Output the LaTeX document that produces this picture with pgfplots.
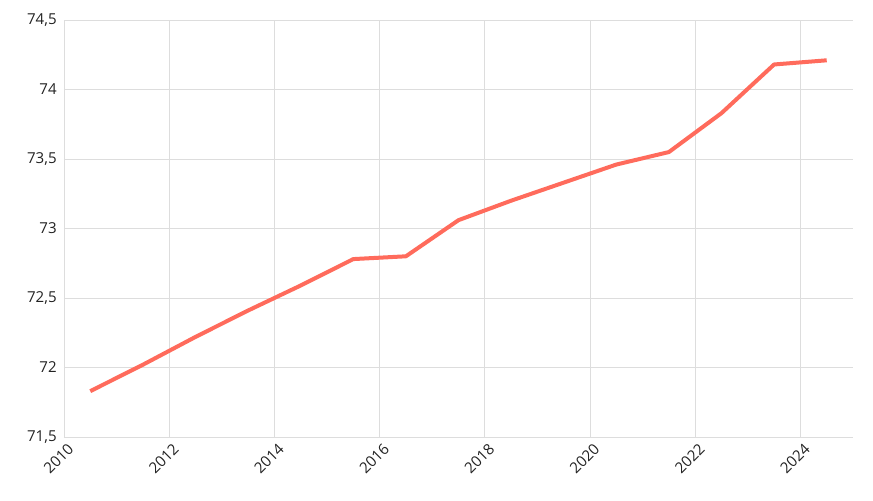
\documentclass[border=0pt]{standalone}
\usepackage{fontspec}
\setmainfont{Open Sans}
\usepackage{pgfplots}
\pgfplotsset{compat=1.18}
\definecolor{linec}{HTML}{FF6B5C}
\definecolor{gridc}{HTML}{DDDDDD}
\definecolor{textc}{HTML}{222222}
\begin{document}
\begin{tikzpicture}
\useasboundingbox (-48pt,-47.25pt) rectangle (606.75pt,327.75pt);
\begin{axis}[
  at={(0,0)}, anchor=south west,
  scale only axis,
  width=591.75pt, height=312.75pt,
  xmin=2010, xmax=2025,
  ymin=71.5, ymax=74.5,
  xtick={2010,2012,...,2024},
  ytick={71.5,72,...,74.5},
  grid=major,
  major grid style={gridc, line width=0.6pt},
  axis line style={draw=none},
  major tick length=0pt,
  tick label style={font=\fontsize{11.3pt}{13pt}\selectfont, text=textc},
  /pgf/number format/assume math mode=true,
  /pgf/number format/use comma,
  /pgf/number format/1000 sep={},
  x tick label style={rotate=45, anchor=north east, xshift=2pt, yshift=-1pt},
  y tick label style={xshift=-2pt},
]
\addplot[linec, line width=3pt, line join=round] coordinates {
(2010.5,71.83)
(2011.5,72.02)
(2012.5,72.22)
(2013.5,72.41)
(2014.5,72.59)
(2015.5,72.78)
(2016.5,72.80)
(2017.5,73.06)
(2018.5,73.20)
(2019.5,73.33)
(2020.5,73.46)
(2021.5,73.55)
(2022.5,73.83)
(2023.5,74.18)
(2024.5,74.21)
};
\end{axis}
\end{tikzpicture}
\end{document}
